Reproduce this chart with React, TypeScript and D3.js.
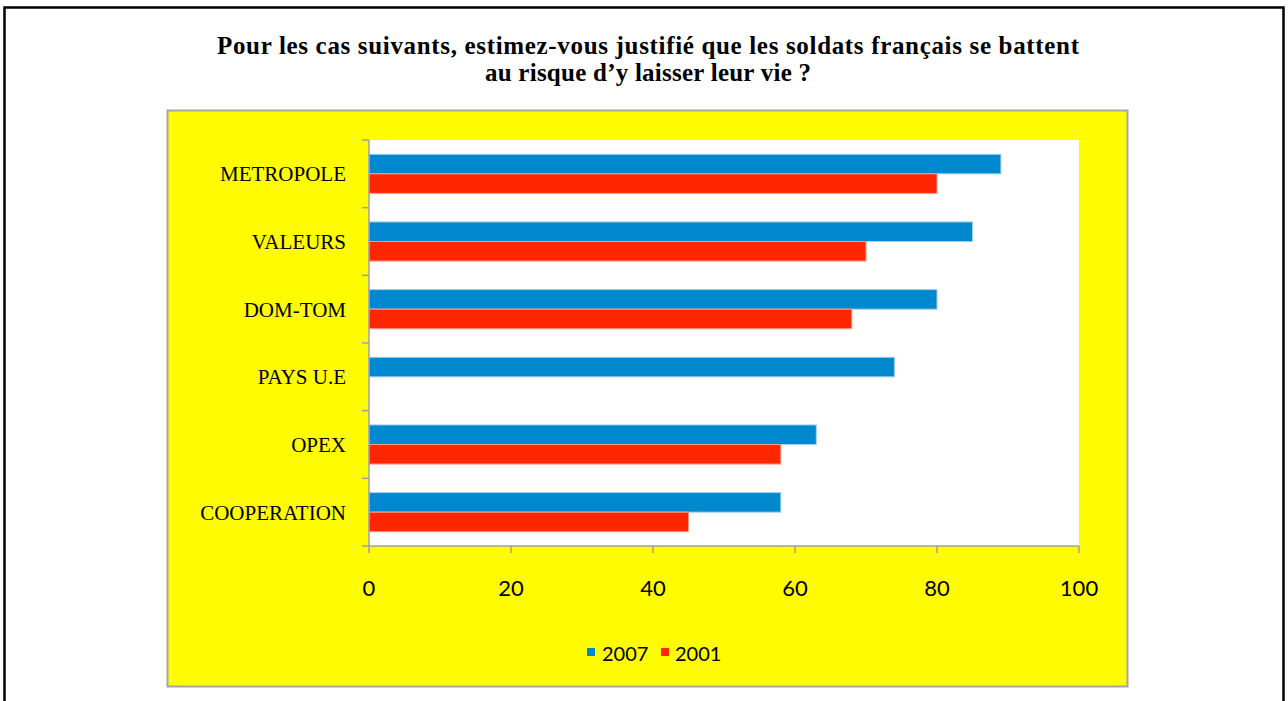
import React from "react";
import * as d3 from "d3";

const categories = ["METROPOLE", "VALEURS", "DOM-TOM", "PAYS U.E", "OPEX", "COOPERATION"];
const values2007 = [89, 85, 80, 74, 63, 58];
const values2001: (number | null)[] = [80, 70, 68, null, 58, 45];
const seriesNames = ["2007", "2001"];
const xTicks = [0, 20, 40, 60, 80, 100];
const titleLines = [
  "Pour les cas suivants, estimez-vous justifié que les soldats français se battent",
  "au risque d\u2019y laisser leur vie ?",
];
const titleWidths = [862, 326];

const BLUE = "#0088CE";
const RED = "#FF2600";

export default function App() {
  const W = 1288, H = 701;
  const plot = { left: 369, right: 1079, top: 140, bottom: 546 };
  const x = d3.scaleLinear().domain([0, 100]).range([plot.left, plot.right]);
  const y = d3.scaleBand<string>().domain(categories).range([plot.top, plot.bottom]).padding(0);
  const inner = d3.scaleBand<string>().domain(seriesNames).range([0, y.bandwidth()]).paddingInner(0).paddingOuter(0.73);
  const bounds = categories.map((c) => y(c)!).concat([plot.bottom]);
  const series = [
    { name: "2007", vals: values2007 as (number | null)[], color: BLUE, stroke: "#9fd0ee" },
    { name: "2001", vals: values2001, color: RED, stroke: "#ff9a88" },
  ];
  const sans = "Lato, 'Open Sans', sans-serif";
  return (
    <svg width={W} height={H} style={{ position: "absolute", left: 0, top: 0, background: "#fff" }}>
      <rect x={4.5} y={7.5} width={1279} height={720} fill="#fff" stroke="#000" strokeWidth={2.5} />
      {titleLines.map((t, i) => (
        <text key={i} x={648} y={54 + i * 27} textAnchor="middle" fontFamily="'Liberation Serif', serif" fontWeight="bold" fontSize={25} textLength={titleWidths[i]} lengthAdjust="spacing" fill="#000">
          {t}
        </text>
      ))}
      <rect x={167.5} y={110.5} width={960} height={576} fill="#FFFB00" stroke="#A6A6A6" strokeWidth={2} />
      <rect x={plot.left} y={plot.top} width={plot.right - plot.left} height={plot.bottom - plot.top} fill="#fff" />
      {series.map((s) =>
        categories.map((c, i) => {
          const v = s.vals[i];
          if (v == null) return null;
          return (
            <rect key={s.name + c} x={x(0)} y={y(c)! + inner(s.name)!} width={x(v) - x(0)} height={inner.bandwidth()} fill={s.color} stroke={s.stroke} strokeWidth={1} />
          );
        })
      )}
      <line x1={plot.left} x2={plot.left} y1={plot.top} y2={plot.bottom} stroke="#A0A0A0" strokeWidth={1.5} />
      {bounds.map((b, i) => (
        <line key={i} x1={plot.left - 7} x2={plot.left} y1={b} y2={b} stroke="#A0A0A0" strokeWidth={1.5} />
      ))}
      <line x1={plot.left} x2={plot.right} y1={plot.bottom} y2={plot.bottom} stroke="#A0A0A0" strokeWidth={1.5} />
      {xTicks.map((t) => (
        <g key={t}>
          <line x1={x(t)} x2={x(t)} y1={plot.bottom} y2={plot.bottom + 7} stroke="#A0A0A0" strokeWidth={1.5} />
          <text x={x(t)} y={596} textAnchor="middle" fontFamily={sans} fontSize={22} fill="#000">
            {t}
          </text>
        </g>
      ))}
      {categories.map((c) => (
        <text key={c} x={346} y={y(c)! + y.bandwidth() / 2 + 7.5} textAnchor="end" fontFamily="'Liberation Serif', serif" fontSize={21} fill="#000">
          {c}
        </text>
      ))}
      <g>
        <rect x={587} y={648} width={8} height={8} fill={BLUE} />
        <text x={602} y={661} fontFamily={sans} fontSize={20} fill="#000">{seriesNames[0]}</text>
        <rect x={661} y={648} width={8} height={8} fill={RED} />
        <text x={675} y={661} fontFamily={sans} fontSize={20} fill="#000">{seriesNames[1]}</text>
      </g>
    </svg>
  );
}
